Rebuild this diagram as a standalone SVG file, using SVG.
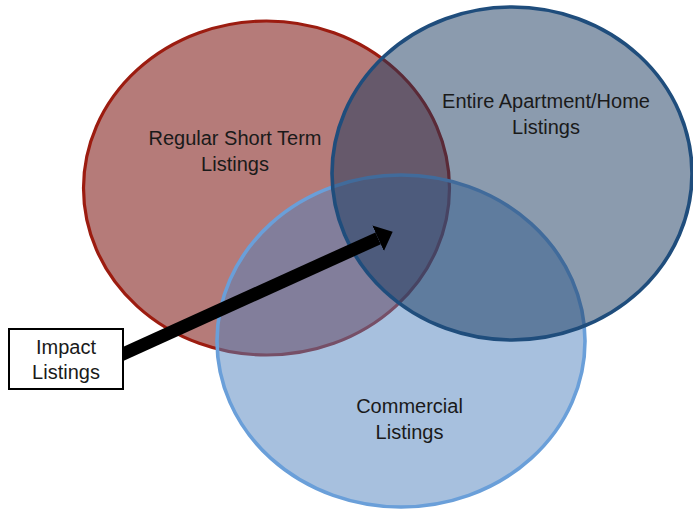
<svg xmlns="http://www.w3.org/2000/svg" width="693" height="509" viewBox="0 0 693 509">
  <style>
    .lbl { font-family: "Liberation Sans", Arial, sans-serif; font-size: 20px; fill: #1a1a1a; text-anchor: middle; }
    .red { fill: #b57b79; stroke: #9c1c10; stroke-width: 3.2; }
    .lblue { fill: #4f81bd; fill-opacity: 0.5; stroke: #6a9fd9; stroke-width: 3.6; }
    .blue { fill: #17375e; fill-opacity: 0.5; stroke: #1f4d7c; stroke-width: 3.6; }
    .box { fill: #ffffff; stroke: #000000; stroke-width: 2; }
  </style>
  <defs>
    <marker id="arrow" markerUnits="userSpaceOnUse" markerWidth="16" markerHeight="28" viewBox="0 0 16 28" refX="0" refY="14" orient="auto">
      <path d="M0,0 L16,14 L0,28 Z" fill="#000"/>
    </marker>
  </defs>
  <rect width="693" height="509" fill="#ffffff"/>
  <g id="regular">
    <ellipse class="red" cx="266.5" cy="188" rx="183" ry="167"/>
  </g>
  <g id="commercial">
    <ellipse class="lblue" cx="401" cy="341" rx="184" ry="166"/>
  </g>
  <g id="entire">
    <ellipse class="blue" cx="512" cy="173.5" rx="180" ry="166.5"/>
  </g>
  <g id="labels">
    <text class="lbl" x="235" y="145">Regular Short Term</text>
    <text class="lbl" x="235" y="171">Listings</text>
    <text class="lbl" x="546" y="108">Entire Apartment/Home</text>
    <text class="lbl" x="546" y="134">Listings</text>
    <text class="lbl" x="409.5" y="413">Commercial</text>
    <text class="lbl" x="409.5" y="439">Listings</text>
  </g>
  <g id="connectors">
    <line x1="120" y1="355.4" x2="378.1" y2="238.3" stroke="#000" stroke-width="13" marker-end="url(#arrow)"/>
  </g>
  <g id="impact">
    <rect class="box" x="9" y="329" width="114" height="60"/>
    <text class="lbl" x="66" y="354">Impact</text>
    <text class="lbl" x="66" y="379">Listings</text>
  </g>
</svg>
